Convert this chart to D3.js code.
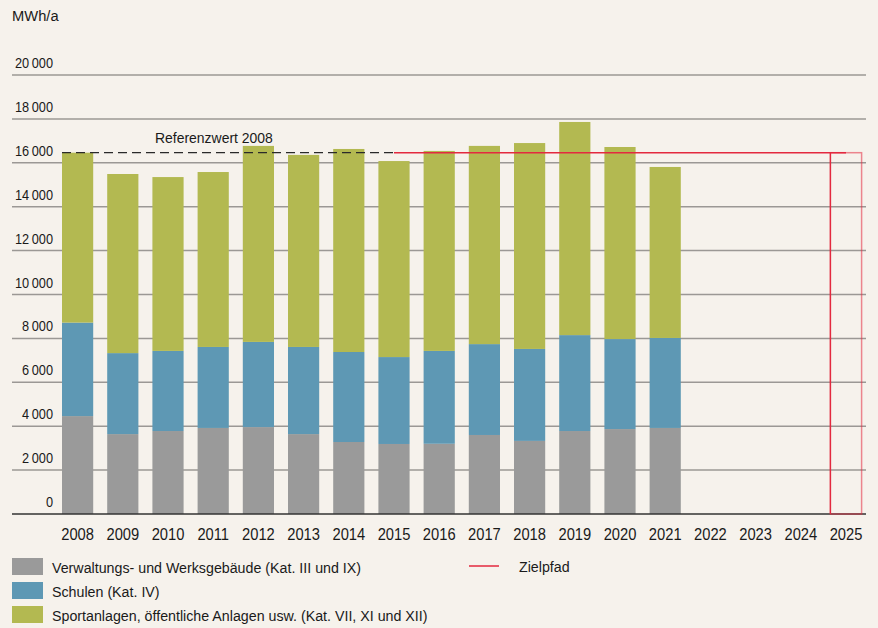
<!DOCTYPE html>
<html><head><meta charset="utf-8">
<script src="https://cdn.jsdelivr.net/npm/d3@7"></script>
<style>
html,body{margin:0;padding:0;background:#f6f2ec;}
svg{display:block;font-family:"Liberation Sans Narrow","Liberation Sans",Arial,sans-serif;}
</style></head>
<body>
<svg id="chart" width="878" height="628"></svg>
<script>
const years = [2008,2009,2010,2011,2012,2013,2014,2015,2016,2017,2018,2019,2020,2021,2022,2023,2024,2025];
const dataYears = [2008,2009,2010,2011,2012,2013,2014,2015,2016,2017,2018,2019,2020,2021];
const verwaltung = [4460,3640,3780,3920,3960,3640,3280,3190,3200,3600,3330,3780,3870,3920];
const schulen    = [4260,3690,3650,3690,3880,3970,4100,3960,4230,4140,4190,4370,4100,4100];
const sport      = [7740,8160,7920,7970,8930,8750,9250,8930,9110,9030,9380,9710,8750,7790];
const yTicks = [0,2000,4000,6000,8000,10000,12000,14000,16000,18000,20000];
const referenzwert = 16460;
const zielpfadYears = [2015,2025];
const zielpfadValues = [16460,16460];
const seriesNames = ["Verwaltungs- und Werksgebäude (Kat. III und IX)","Schulen (Kat. IV)","Sportanlagen, öffentliche Anlagen usw. (Kat. VII, XI und XII)"];
const colors = ["#9a9a9a","#5e98b4","#b3b951"];

const svg = d3.select("#chart");
svg.append("rect").attr("width",878).attr("height",628).attr("fill","#f6f2ec");

const x = d3.scaleBand().domain(years).range([55,868.6]).paddingInner(0.31).paddingOuter(0.155);
const y = d3.scaleLinear().domain([0,20000]).range([514,75]);
const fmt = v => d3.format(",")(v).replace(/,/g,"\u2009");

// condensed text helper (horizontal squeeze to mimic condensed face)
function ctext(sel, tx, ty, sx){
  return sel.attr("x",0).attr("y",0).attr("transform",`translate(${tx},${ty}) scale(${sx},1)`);
}

// gridlines
svg.append("g").selectAll("line").data(yTicks.filter(d=>d>0)).join("line")
  .attr("x1",12).attr("x2",866).attr("y1",d=>y(d)).attr("y2",d=>y(d))
  .attr("stroke","#9b9895").attr("stroke-width",1.5);
// tick labels
svg.append("g").selectAll("text").data(yTicks).join("text")
  .each(function(d){ ctext(d3.select(this),53,y(d)-7,0.88); })
  .attr("text-anchor","end")
  .attr("font-size",14.5).attr("fill","#1a1a1a").text(fmt);

ctext(svg.append("text"),12,21,0.95).attr("font-size",15.5).attr("fill","#1a1a1a").text("MWh/a");

// stacked bars
const rows = dataYears.map((yr,i)=>({year:yr, a:verwaltung[i], b:schulen[i], c:sport[i]}));
const stack = d3.stack().keys(["a","b","c"])(rows);
svg.append("g").selectAll("g").data(stack).join("g").attr("fill",(d,i)=>colors[i])
  .selectAll("rect").data(d=>d).join("rect")
  .attr("x",d=>x(d.data.year)).attr("width",x.bandwidth())
  .attr("y",d=>y(d[1])).attr("height",d=>y(d[0])-y(d[1]));

// axis line
svg.append("line").attr("x1",12).attr("x2",866).attr("y1",y(0)).attr("y2",y(0))
  .attr("stroke","#333").attr("stroke-width",1.5);

// year labels
svg.append("g").selectAll("text").data(years).join("text")
  .each(function(d){ ctext(d3.select(this),x(d)+x.bandwidth()/2,540,0.92); })
  .attr("text-anchor","middle")
  .attr("font-size",16).attr("fill","#1a1a1a").text(d=>d);

// Referenzwert dashed line
svg.append("line").attr("x1",x(2008)).attr("x2",x(2015)+x.bandwidth()/2)
  .attr("y1",y(referenzwert)).attr("y2",y(referenzwert))
  .attr("stroke","#2a2a2a").attr("stroke-width",1.3).attr("stroke-dasharray","9,5");
ctext(svg.append("text"),155,143,0.9).attr("font-size",15.5).attr("fill","#1a1a1a").text("Referenzwert 2008");

// Zielpfad target box (2025)
const lastY = zielpfadYears[zielpfadYears.length-1];
svg.append("rect").attr("x",x(lastY)).attr("width",x.bandwidth())
  .attr("y",y(zielpfadValues[1])).attr("height",y(0)-y(zielpfadValues[1]))
  .attr("fill","none").attr("stroke","#e3293f").attr("stroke-opacity",0.55).attr("stroke-width",1.5);
svg.append("line").attr("x1",x(lastY)).attr("x2",x(lastY))
  .attr("y1",y(zielpfadValues[1])).attr("y2",y(0))
  .attr("stroke","#e3293f").attr("stroke-width",1.3);
const line = d3.line().x(d=>x(d[0])+x.bandwidth()/2).y(d=>y(d[1]));
svg.append("path").datum(zielpfadYears.map((yr,i)=>[yr,zielpfadValues[i]]))
  .attr("d",line).attr("fill","none").attr("stroke","#e3293f").attr("stroke-width",1.5);

// legend
const lg = svg.append("g");
seriesNames.forEach((n,i)=>{
  lg.append("rect").attr("x",12).attr("y",558+i*24).attr("width",31).attr("height",17).attr("fill",colors[i]);
  ctext(lg.append("text"),52,573+i*24,0.95).attr("font-size",15).attr("fill","#1a1a1a").text(n);
});
lg.append("line").attr("x1",469).attr("x2",499).attr("y1",566).attr("y2",566).attr("stroke","#e3293f").attr("stroke-width",1.5);
ctext(lg.append("text"),519,572,0.95).attr("font-size",15).attr("fill","#1a1a1a").text("Zielpfad");
</script>
</body></html>
